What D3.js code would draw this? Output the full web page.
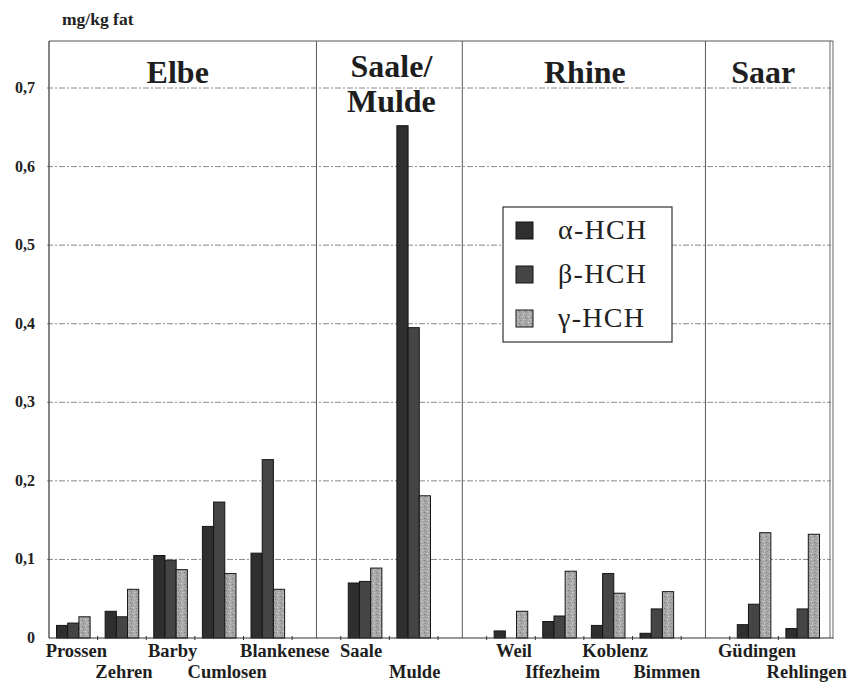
<!DOCTYPE html>
<html>
<head>
<meta charset="utf-8">
<script src="https://cdn.jsdelivr.net/npm/d3@7"></script>
<style>
  html, body { margin: 0; padding: 0; background: #fff; }
  svg { display: block; }
</style>
</head>
<body>
<svg id="chart" width="848" height="684"></svg>
<script>
// HCH isomers in fish fat, sampled along four rivers (mg/kg fat)
const rivers = ["Elbe", "Saale/Mulde", "Rhine", "Saar"];
const sites = ["Prossen", "Zehren", "Barby", "Cumlosen", "Blankenese",
               "Saale", "Mulde",
               "Weil", "Iffezheim", "Koblenz", "Bimmen",
               "Güdingen", "Rehlingen"];
const siteRiver = ["Elbe", "Elbe", "Elbe", "Elbe", "Elbe",
                   "Saale/Mulde", "Saale/Mulde",
                   "Rhine", "Rhine", "Rhine", "Rhine",
                   "Saar", "Saar"];
const alphaHCH = [0.016, 0.034, 0.105, 0.142, 0.108, 0.070, 0.652, 0.009, 0.021, 0.016, 0.006, 0.017, 0.012];
const betaHCH  = [0.019, 0.027, 0.099, 0.173, 0.227, 0.072, 0.395, 0.000, 0.028, 0.082, 0.037, 0.043, 0.037];
const gammaHCH = [0.027, 0.062, 0.087, 0.082, 0.062, 0.089, 0.181, 0.034, 0.085, 0.057, 0.059, 0.134, 0.132];
const seriesNames = ["α-HCH", "β-HCH", "γ-HCH"];
const yTicks = [0, 0.1, 0.2, 0.3, 0.4, 0.5, 0.6, 0.7];
const yTickLabels = ["0", "0,1", "0,2", "0,3", "0,4", "0,5", "0,6", "0,7"];

const series = [alphaHCH, betaHCH, gammaHCH];
const fills = ["#2f2f2f", "#454545", "url(#speckle)"];
const serif = "'Liberation Serif', 'Times New Roman', serif";

const svg = d3.select("#chart");
const plotLeft = 49, plotRight = 827, plotTop = 41, plotBottom = 638;

// Slots: each river's sites, with one empty slot between rivers
const slots = [];
rivers.forEach((r, ri) => {
  sites.forEach((s, i) => { if (siteRiver[i] === r) slots.push(s); });
  if (ri < rivers.length - 1) slots.push("__gap" + ri);
});

const x = d3.scaleBand().domain(slots).range([plotLeft, plotRight]).padding(0);
const y = d3.scaleLinear().domain([0, 0.7]).range([plotBottom, 88]);

// speckled fill for the gamma series
const defs = svg.append("defs");
const pat = defs.append("pattern").attr("id", "speckle")
  .attr("patternUnits", "userSpaceOnUse").attr("width", 6).attr("height", 6);
pat.append("rect").attr("width", 6).attr("height", 6).attr("fill", "#a9a9a9");
[[1, 1, "#d4d4d4"], [4, 2, "#7c7c7c"], [2, 4, "#cfcfcf"], [5, 5, "#888"], [0, 3, "#959595"]]
  .forEach(([px, py, c]) => pat.append("rect").attr("x", px).attr("y", py)
    .attr("width", 1.2).attr("height", 1.2).attr("fill", c));

// horizontal gridlines
svg.append("g").selectAll("line").data(yTicks.filter(d => d > 0)).join("line")
  .attr("x1", plotLeft - 2).attr("x2", plotRight + 4)
  .attr("y1", d => y(d)).attr("y2", d => y(d))
  .attr("stroke", "#8a8a8a").attr("stroke-width", 1)
  .attr("stroke-dasharray", "6,2,2,2");

// frame: top border and double right border
svg.append("line").attr("x1", plotLeft).attr("x2", plotRight + 6).attr("y1", plotTop).attr("y2", plotTop)
  .attr("stroke", "#555").attr("stroke-width", 1.2);
svg.append("line").attr("x1", plotRight + 3).attr("x2", plotRight + 3).attr("y1", plotTop).attr("y2", plotBottom)
  .attr("stroke", "#666").attr("stroke-width", 1);
svg.append("line").attr("x1", plotRight + 6).attr("x2", plotRight + 6).attr("y1", plotTop).attr("y2", plotBottom + 1)
  .attr("stroke", "#666").attr("stroke-width", 1);

// river dividers in the middle of the empty slots
const gaps = slots.filter(s => s.startsWith("__gap"));
const gapMid = g => x(g) + x.bandwidth() / 2;
svg.append("g").selectAll("line").data(gaps).join("line")
  .attr("x1", gapMid).attr("x2", gapMid)
  .attr("y1", plotTop).attr("y2", plotBottom)
  .attr("stroke", "#5a5a5a").attr("stroke-width", 1);

// river titles, centred in each river's section (with a small optical nudge)
const titleNudge = { "Elbe": -5, "Saale/Mulde": 2, "Rhine": 1, "Saar": -6 };
const riverCentre = r => {
  const ri = rivers.indexOf(r);
  const lo = ri === 0 ? plotLeft : gapMid(gaps[ri - 1]);
  const hi = ri === rivers.length - 1 ? plotRight + 6 : gapMid(gaps[ri]);
  return (lo + hi) / 2 + titleNudge[r];
};
rivers.forEach(r => {
  const lines = r === "Saale/Mulde" ? ["Saale/", "Mulde"] : [r];
  const cx = riverCentre(r);
  const t = svg.append("text").attr("x", cx).attr("y", lines.length > 1 ? 77 : 83)
    .attr("text-anchor", "middle").attr("font-family", serif)
    .attr("font-weight", "bold").attr("font-size", 32).attr("fill", "#1e1e1e");
  lines.forEach((l, i) => t.append("tspan").attr("x", cx).attr("dy", i === 0 ? 0 : 35).text(l));
});

// bars
const bw = 11.2;
const gx = d3.scaleBand().domain([0, 1, 2]).range([0, bw * 3]);
const barData = [];
sites.forEach((s, i) => series.forEach((arr, k) => {
  if (arr[i] > 0) barData.push({ site: s, k, v: arr[i] });
}));
svg.append("g").selectAll("rect").data(barData).join("rect")
  .attr("x", d => x(d.site) + (x.bandwidth() - bw * 3) / 2 + gx(d.k))
  .attr("y", d => y(d.v))
  .attr("width", bw).attr("height", d => y(0) - y(d.v))
  .attr("fill", d => fills[d.k])
  .attr("stroke", "#151515").attr("stroke-width", 1);

// left axis line
svg.append("line").attr("x1", plotLeft).attr("x2", plotLeft).attr("y1", plotTop).attr("y2", plotBottom)
  .attr("stroke", "#333").attr("stroke-width", 1.2);

// y tick labels
svg.append("g").selectAll("text").data(yTicks).join("text")
  .attr("x", 35).attr("y", d => y(d) + 5)
  .attr("text-anchor", "end").attr("font-family", serif).attr("font-weight", "bold")
  .attr("font-size", 16).attr("fill", "#222")
  .text((d, i) => yTickLabels[i]);

// x axis with ticks at slot boundaries
svg.append("line").attr("x1", plotLeft).attr("x2", plotRight + 6).attr("y1", plotBottom).attr("y2", plotBottom)
  .attr("stroke", "#333").attr("stroke-width", 1.2);
svg.append("g").selectAll("line").data(slots.slice(1)).join("line")
  .attr("x1", d => x(d)).attr("x2", d => x(d))
  .attr("y1", plotBottom - 2).attr("y2", plotBottom + 2)
  .attr("stroke", "#333").attr("stroke-width", 1);

// site labels, alternating between two rows within each river
const labelNudge = { "Prossen": 3, "Zehren": 2, "Barby": 2, "Cumlosen": 8, "Blankenese": 17,
                     "Saale": -4, "Mulde": 1, "Weil": 3, "Iffezheim": 3, "Koblenz": 7,
                     "Bimmen": 10, "Güdingen": 3, "Rehlingen": 4 };
svg.append("g").selectAll("text").data(sites).join("text")
  .attr("x", d => x(d) + x.bandwidth() / 2 + labelNudge[d])
  .attr("y", (d, i) => {
    const first = siteRiver.indexOf(siteRiver[i]);
    return (i - first) % 2 === 0 ? 657 : 678;
  })
  .attr("text-anchor", "middle").attr("font-family", serif).attr("font-weight", "bold")
  .attr("font-size", 18.5).attr("fill", "#1e1e1e")
  .text(d => d);

// unit label
svg.append("text").attr("x", 62).attr("y", 25)
  .attr("font-family", serif).attr("font-weight", "bold").attr("font-size", 17.5)
  .attr("fill", "#222").text("mg/kg fat");

// legend
const lg = svg.append("g").attr("transform", "translate(503,207)");
lg.append("rect").attr("width", 169).attr("height", 135)
  .attr("fill", "#fff").attr("stroke", "#333").attr("stroke-width", 1.2);
seriesNames.forEach((n, k) => {
  const cy = 23 + k * 44;
  lg.append("rect").attr("x", 13).attr("y", cy - 8).attr("width", 17).attr("height", 17)
    .attr("fill", fills[k]).attr("stroke", "#151515").attr("stroke-width", 1);
  lg.append("text").attr("x", 55).attr("y", cy + 9)
    .attr("font-family", serif).attr("font-size", 28).attr("letter-spacing", 1.3)
    .attr("fill", "#222").text(n);
});
</script>
</body>
</html>
